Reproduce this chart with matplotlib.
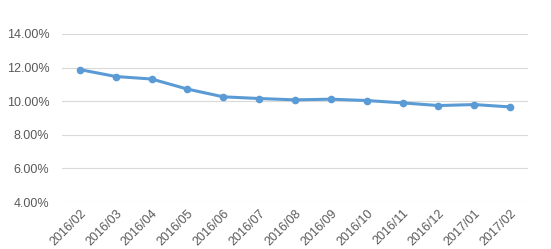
import matplotlib
matplotlib.use('Agg')
import matplotlib.pyplot as plt
from matplotlib.ticker import FuncFormatter

months = ['2016/02', '2016/03', '2016/04', '2016/05', '2016/06', '2016/07', '2016/08',
          '2016/09', '2016/10', '2016/11', '2016/12', '2017/01', '2017/02']
rates = [11.88, 11.47, 11.32, 10.72, 10.26, 10.16, 10.08, 10.12, 10.04, 9.90, 9.74, 9.80, 9.66]
yticks = [4, 6, 8, 10, 12, 14]

plt.rcParams['font.family'] = ['Liberation Sans', 'DejaVu Sans']

fig = plt.figure(figsize=(5.51, 2.49), dpi=100)
ax = fig.add_axes([62 / 551, 1 - 202 / 249, 466 / 551, 168 / 249])

x = list(range(len(months)))
ax.plot(x, rates, color='#5B9BD5', linewidth=2.2, marker='o', markersize=4.5, zorder=3)

ax.set_xlim(-0.5, len(months) - 0.5)
ax.set_ylim(4, 14)
ax.set_yticks(yticks)
ax.yaxis.set_major_formatter(FuncFormatter(lambda v, p: f'{v:.2f}%'))
ax.set_xticks(x)
ax.set_xticklabels(months, rotation=45, ha='right', va='top', rotation_mode='anchor')

ax.grid(axis='y', color='#D9D9D9', linewidth=0.8)
ax.set_axisbelow(True)
for s in ax.spines.values():
    s.set_visible(False)
ax.tick_params(axis='both', length=0, colors='#595959', labelsize=9)
ax.tick_params(axis='y', pad=9)
ax.tick_params(axis='x', pad=4)

fig.savefig('out.png', dpi=100)
